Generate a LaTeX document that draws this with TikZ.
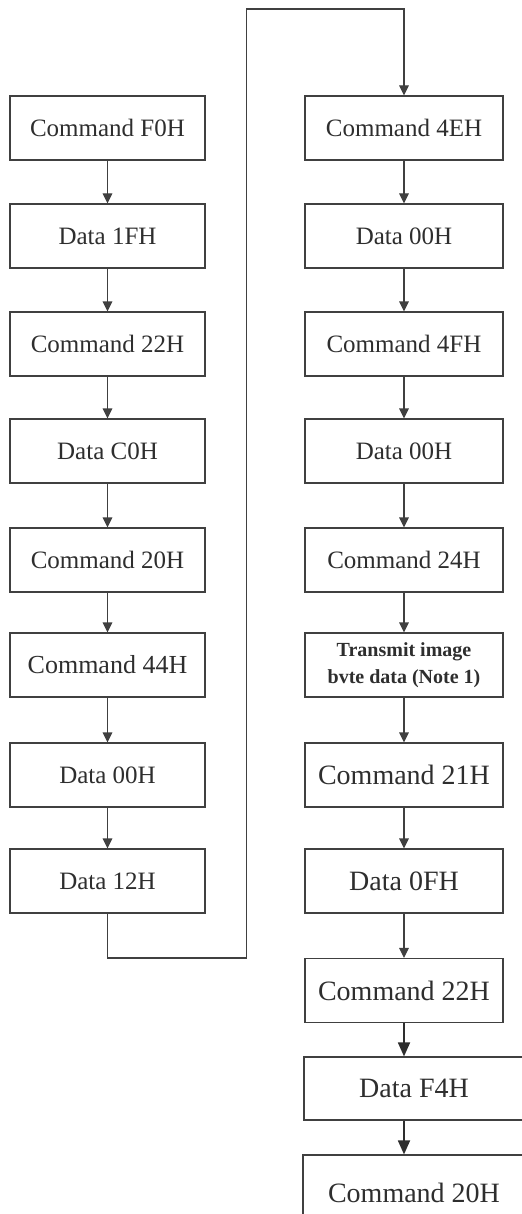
\documentclass[tikz,border=0pt]{standalone}
\usepackage{fontspec}
\setmainfont{Liberation Serif}
\usetikzlibrary{arrows.meta}
\definecolor{ink}{HTML}{2E2E2E}
\definecolor{lin}{HTML}{404040}
\begin{document}
\begin{tikzpicture}[x=0.5pt,y=-0.5pt,
  box/.style={draw=lin, line width=0.6pt, fill=white, inner sep=0pt, text=ink,
    font=\fontsize{12.5}{15}\selectfont, minimum height=32pt, align=center},
  lbox/.style={box, minimum width=97.5pt},
  rbox/.style={box, minimum width=99pt},
  big/.style={font=\fontsize{14}{17}\selectfont},
  arr/.style={draw=lin, line width=0.6pt, -{Triangle[length=5pt,width=4.8pt]}},
  tarr/.style={draw=ink, line width=0.9pt, -{Triangle[length=7pt,width=6pt]}}]
\clip (0,0) rectangle (522,1214);
\fill[white] (0,0) rectangle (522,1214);
% left column
\node[lbox] (L1) at (107.5,128) {Command F0H};
\node[lbox] (L2) at (107.5,236) {Data 1FH};
\node[lbox] (L3) at (107.5,344) {Command 22H};
\node[lbox] (L4) at (107.5,451) {Data C0H};
\node[lbox] (L5) at (107.5,560) {Command 20H};
\node[lbox, font=\fontsize{13}{15}\selectfont] (L6) at (107.5,665) {Command 44H};
\node[lbox] (L7) at (107.5,775) {Data 00H};
\node[lbox] (L8) at (107.5,881) {Data 12H};
% right column
\node[rbox] (R1) at (404,128) {Command 4EH};
\node[rbox] (R2) at (404,236) {Data 00H};
\node[rbox] (R3) at (404,344) {Command 4FH};
\node[rbox] (R4) at (404,451) {Data 00H};
\node[rbox] (R5) at (404,560) {Command 24H};
\node[rbox, font=\fontsize{10}{13.5}\selectfont\bfseries] (R6) at (404,665) {Transmit image\\bvte data (Note 1)};
\node[rbox, big] (R7) at (404,775) {Command 21H};
\node[rbox, big] (R8) at (404,881) {Data 0FH};
\node[rbox, big] (R9) at (404,990.5) {Command 22H};
\node[box, big, minimum width=114pt, minimum height=31.5pt] (R10) at (418,1088.5) {\hspace*{-4pt}Data F4H};
\node[box, big, minimum width=114pt, minimum height=38pt] (R11) at (417,1193) {\hspace*{-3pt}Command 20H};
% arrows
\foreach \a/\b in {L1/L2,L2/L3,L3/L4,L4/L5,L5/L6,L6/L7,L7/L8,R1/R2,R2/R3,R3/R4,R4/R5,R5/R6,R6/R7,R7/R8,R8/R9}
  \draw[arr] (\a.south) -- (\b.north);
\draw[tarr] (R9.south) -- (R9.south |- R10.north);
\draw[tarr] (R9.south |- R10.south) -- (R9.south |- R11.north);
% loop connector
\coordinate (lb) at (246.5,958);
\coordinate (lt) at (246.5,9);
\draw[arr] (L8.south) |- (lb) -- (lt) -| (R1.north);
\end{tikzpicture}
\end{document}
